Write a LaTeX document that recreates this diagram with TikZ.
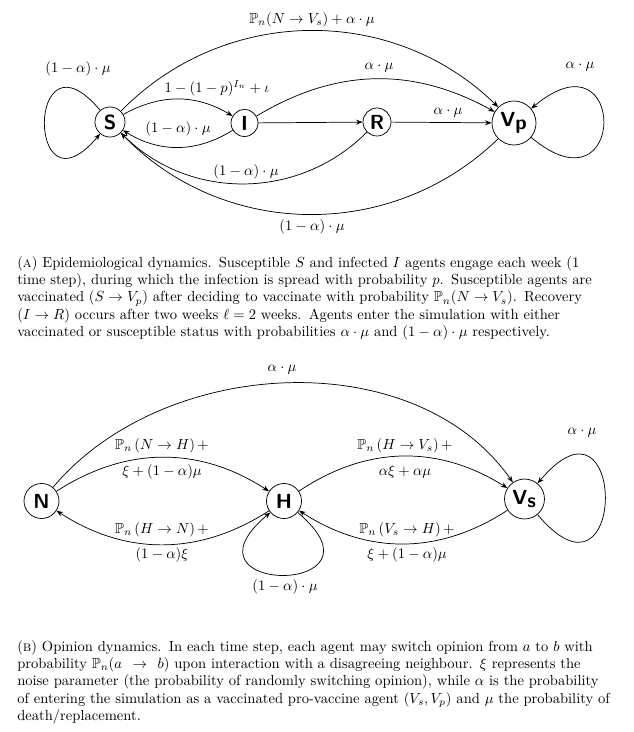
\documentclass[tikz,border=0pt]{standalone}
\usepackage{amssymb}
\usetikzlibrary{arrows.meta}
\begin{document}
\begin{tikzpicture}[x=0.686pt,y=0.686pt,
  st/.style={circle,draw,line width=0.5pt,inner sep=0pt,font=\fontsize{14}{16}\selectfont\sffamily\bfseries},
  lbl/.style={inner sep=0pt,font=\fontsize{10}{12}\selectfont},
  edge/.style={-{Stealth[length=4.5pt,width=3.4pt]},line width=0.5pt},
  capt/.style={inner sep=0pt,anchor=base west,text width=418pt,font=\fontsize{10}{12}\selectfont}]
\useasboundingbox (0,0) rectangle (634,-732);
% ---------- (A) ----------
\node[st,minimum size=20.6pt] (S) at (110,-122) {S};
\node[st,minimum size=18.5pt] (I) at (244.5,-123) {I};
\node[st,minimum size=19.2pt] (R) at (377,-122) {R};
\node[st,minimum size=30.2pt] (Vp) at (514,-123) {V$_{\textsf{\textbf{p}}}$};
\draw[edge] (S) to[bend left=45] (Vp);
\draw[edge] (S) to[bend left=30] (I);
\draw[edge] (I) to[bend left=32] (S);
\draw[edge] (I) to[bend left=30] (Vp);
\draw[edge] (I) -- (R);
\draw[edge] (R) -- (Vp);
\draw[edge] (R) to[bend left=45] (S);
\draw[edge] (Vp) to[bend left=45] (S);
\draw[edge] (S.130) .. controls +(130:115) and +(230:115) .. (S.230);
\draw[edge] (Vp.-40) .. controls +(-40:126) and +(40:126) .. (Vp.40);
\node[lbl] (a1) at (312,-20) {$\mathbb{P}_n(N\rightarrow V_s)+\alpha\cdot\mu$};
\node[lbl] (a2) at (78,-69) {$(1-\alpha)\cdot\mu$};
\node[lbl] (a3) at (217,-88) {$1-(1-p)^{I_n}+\iota$};
\node[lbl] (a4) at (178,-129) {$(1-\alpha)\cdot\mu$};
\node[lbl] (a5) at (379,-68) {$\alpha\cdot\mu$};
\node[lbl] (a6) at (448,-113) {$\alpha\cdot\mu$};
\node[lbl] (a7) at (246,-172) {$(1-\alpha)\cdot\mu$};
\node[lbl] (a8) at (312,-227) {$(1-\alpha)\cdot\mu$};
\node[lbl] (a9) at (580,-67) {$\alpha\cdot\mu$};
\node[capt] (capA) at (17,-267) {\thickmuskip=5mu\relax (\textsc{a}) Epidemiological dynamics. Susceptible $S$ and infected $I$ agents engage each week (1\linebreak time step), during which the infection is spread with probability $p$. Susceptible agents are\linebreak vaccinated ($S\rightarrow V_p$) after deciding to vaccinate with probability $\mathbb{P}_n(N\rightarrow V_s)$. Recovery\linebreak ($I\rightarrow R$) occurs after two weeks $\ell=2$ weeks. Agents enter the simulation with either\linebreak vaccinated or susceptible status with probabilities $\alpha\cdot\mu$ and $(1-\alpha)\cdot\mu$ respectively.};
% ---------- (B) ----------
\node[st,minimum size=24pt] (N) at (41.5,-501) {N};
\node[st,minimum size=24pt] (H) at (284,-501) {H};
\node[st,minimum size=27.4pt] (Vs) at (524.5,-499) {V$_{\textsf{\textbf{s}}}$};
\draw[edge] (N) to[out=50,in=125,looseness=0.95] (Vs);
\draw[edge] (N) to[bend left=33] (H);
\draw[edge] (H) to[bend left=33] (Vs);
\draw[edge] (H) to[bend left=33] (N);
\draw[edge] (Vs) to[bend left=33] (H);
\draw[edge] (H.-40) .. controls +(-40:130) and +(-140:130) .. (H.-140);
\draw[edge] (Vs.-50) .. controls +(-50:140) and +(50:140) .. (Vs.50);
\node[lbl] (b1) at (282,-370) {$\alpha\cdot\mu$};
\node[lbl] (b2) at (162,-446) {$\mathbb{P}_n\left(N\rightarrow H\right)+$};
\node[lbl] (b3) at (162,-472) {$\xi+(1-\alpha)\mu$};
\node[lbl] (b4) at (405,-446) {$\mathbb{P}_n\left(H\rightarrow V_s\right)+$};
\node[lbl] (b5) at (405,-472) {$\alpha\xi+\alpha\mu$};
\node[lbl] (b6) at (162,-530) {$\mathbb{P}_n\left(H\rightarrow N\right)+$};
\node[lbl] (b7) at (162,-555) {$(1-\alpha)\xi$};
\node[lbl] (b8) at (407,-530) {$\mathbb{P}_n\left(V_s\rightarrow H\right)+$};
\node[lbl] (b9) at (407,-555) {$\xi+(1-\alpha)\mu$};
\node[lbl] (b10) at (285,-587) {$(1-\alpha)\cdot\mu$};
\node[lbl] (b11) at (582,-433) {$\alpha\cdot\mu$};
\node[capt] (capB) at (17,-651) {(\textsc{b}) Opinion dynamics. In each time step, each agent may switch opinion from $a$ to $b$ with probability $\mathbb{P}_n(a\rightarrow b)$ upon interaction with a disagreeing neighbour. $\xi$ represents the noise parameter (the probability of randomly switching opinion), while $\alpha$ is the probability of entering the simulation as a vaccinated pro-vaccine agent $(V_s,V_p)$ and $\mu$ the probability of death/replacement.};
\end{tikzpicture}
\end{document}
